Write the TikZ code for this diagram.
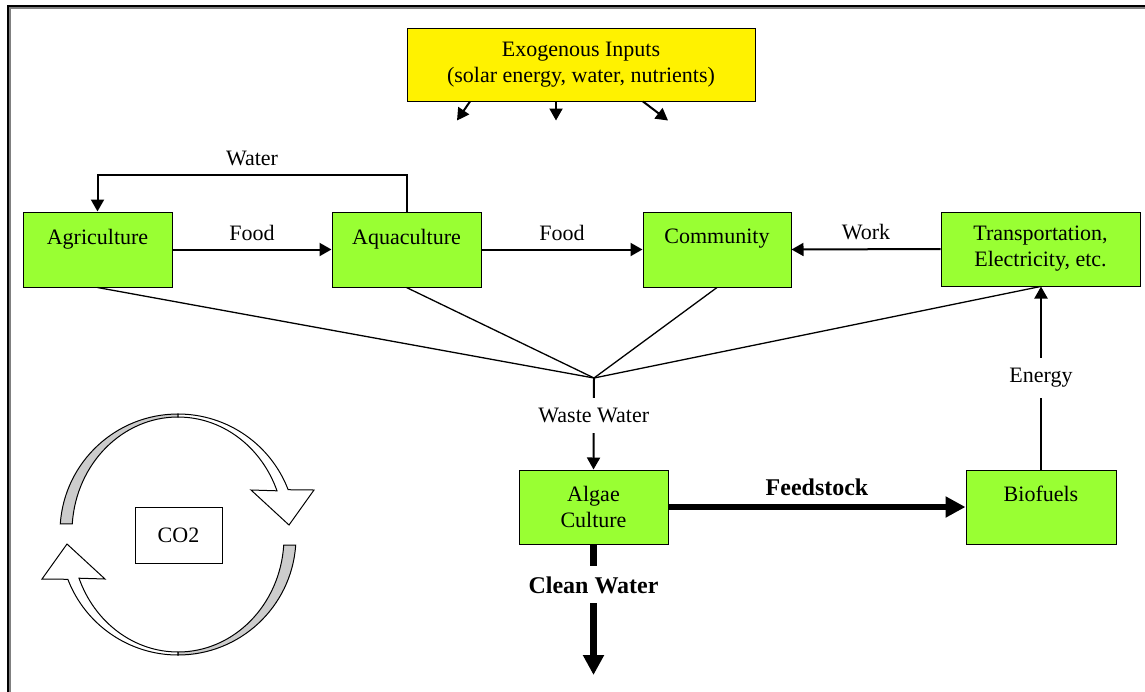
\documentclass[tikz,border=0pt]{standalone}
\usepackage{fontspec}
\setmainfont{Liberation Serif}
\usetikzlibrary{arrows.meta, calc}

\definecolor{boxgreen}{RGB}{153,255,51}

\begin{document}
\begin{tikzpicture}[x=0.5pt, y=-0.5pt,
        box/.style={draw, line width=0.5pt, fill=boxgreen, inner sep=0pt, align=center,
            font=\fontsize{11}{13}\selectfont},
        lbl/.style={inner sep=0pt, font=\fontsize{11}{13}\selectfont},
        gap/.style={lbl, fill=white, inner xsep=2pt, inner ysep=5pt},
        arr/.style={line width=1pt, -{Triangle[length=6pt, width=6.5pt]}},
        fat/.style={line width=3.25pt, -{Triangle[length=10pt, width=10pt]}},
        waste/.style={line width=0.65pt}]
    \useasboundingbox (0,0) rectangle (1145,691);
    \clip (0,0) rectangle (1145,691);

    % frame
    \draw[line width=1.5pt] (8,700) -- (8,6) -- (1150,6);
    \draw[gray, line width=0.6pt] (10,700) -- (10,8) -- (1150,8);

    \node[box, fill=yellow, minimum width=174pt, minimum height=36.5pt] (exo) at (581,64.5)
        {Exogenous Inputs\\(solar energy, water, nutrients)};

    \node[box, minimum width=74.5pt, minimum height=37.5pt] (agri) at (97.5,249.5) {Agriculture\\\mbox{}};
    \node[box, minimum width=74.5pt, minimum height=37.5pt] (aqua) at (406.5,249.5) {Aquaculture\\\mbox{}};
    \node[box, minimum width=74pt, minimum height=37.5pt] (comm) at (717,249.5) {Community\\\mbox{}};
    \node[box, minimum width=99.5pt, minimum height=37pt] (trans) at (1040.5,249) {Transportation,\\Electricity, etc.};
    \node[box, minimum width=74.5pt, minimum height=37pt] (algae) at (593.5,507) {Algae\\Culture};
    \node[box, minimum width=75pt, minimum height=37pt] (bio) at (1041,507) {Biofuels\\\mbox{}};
    \node[box, fill=white, minimum width=43.5pt, minimum height=28pt] (co2) at (178.5,535) {CO2};

    \coordinate (junc) at (594,378);
    \coordinate (cwend) at (594,675);

    % inputs from above
    \draw[arr] ($(exo.south)+(-111,0)$) -- ++(-13,19);
    \draw[arr] ($(exo.south)+(-25,0)$) -- ++(0,19);
    \draw[arr] ($(exo.south)+(62,0)$) -- ++(25,19);

    \draw[arr] (agri.east) -- node[lbl, above=4pt] {Food} (aqua.west);
    \draw[arr] (aqua.east) -- node[lbl, above=4pt] {Food} (comm.west);
    \draw[arr] (trans.west) -- node[lbl, above=4pt] {Work} (comm.east);
    \draw[arr] (aqua.north) -- ++(0,-37) -| node[lbl, pos=0.25, above=4pt] {Water} (agri.north);

    % waste water collection
    \foreach \n in {agri, aqua, comm, trans}
        \draw[waste] (\n.south) -- (junc);
    \draw[arr] (junc) -- node[gap, pos=0.41] {Waste Water} (algae.north);

    \draw[fat] (algae.east) -- node[lbl, above=4pt, font=\fontsize{12}{14}\selectfont\bfseries] {Feedstock} (bio.west);
    \draw[fat] (algae.south) -- node[gap, pos=0.31, font=\fontsize{12}{14}\selectfont\bfseries] {Clean Water} (algae.south |- cwend);
    \draw[arr] (bio.north) -- node[gap] {Energy} (bio.north |- trans.south);

    % carbon cycle arrows
    \foreach \r in {0,180} {
        \begin{scope}[shift={(178,534.5)}, rotate=\r, line width=0.5pt]
            \filldraw[fill=black!20] (0,-2.5) ++(-176:118) arc[start angle=-176, end angle=-90, radius=118]
                -- (0,-117.5) arc[start angle=-90, end angle=-176, x radius=106, y radius=115] -- cycle;
            \filldraw[fill=white] (0,-120.5) arc[start angle=-90, end angle=-21, radius=118]
                -- (136,-44.5) -- (111,-9.5) -- (73,-44.5) -- (99,-43.7)
                arc[start angle=-21, end angle=-90, x radius=106, y radius=115] -- cycle;
        \end{scope}
    }
\end{tikzpicture}
\end{document}
